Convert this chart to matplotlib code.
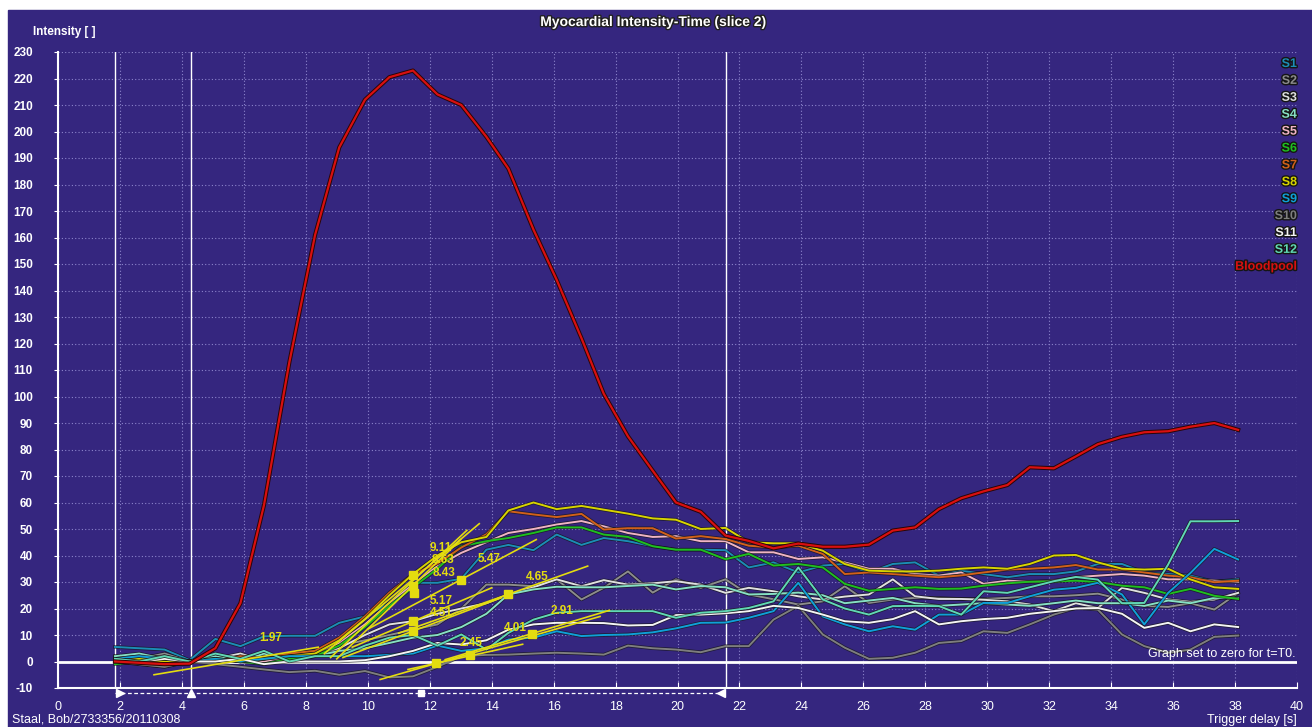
import matplotlib.pyplot as plt
import matplotlib.patheffects as pe
from matplotlib.patches import Rectangle

plt.rcParams['font.family'] = ['Liberation Sans', 'DejaVu Sans']
plt.rcParams['axes.unicode_minus'] = False

bg = '#35267f'
grid_col = '#8c84cc'
fit_col = '#e4dc10'

# trigger times [s]
t = [1.84, 2.62, 3.44, 4.25, 5.08, 5.89, 6.65, 7.47, 8.30, 9.08, 9.91, 10.70,
     11.46, 12.25, 13.02, 13.83, 14.54, 15.35, 16.10, 16.90, 17.62, 18.40, 19.20, 19.95,
     20.75, 21.55, 22.30, 23.10, 23.90, 24.69, 25.40, 26.18, 26.95, 27.67, 28.44, 29.16,
     29.88, 30.65, 31.37, 32.15, 32.86, 33.57, 34.35, 35.07, 35.84, 36.56, 37.33, 38.10]

bloodpool = [0, -0.5, -1, -0.8, 5, 22, 59, 113, 161, 194, 212, 220.5, 223, 214, 210, 198,
             186, 163, 144, 122, 101, 85, 72, 60, 56.5, 47.5, 45.5, 42.7, 44.5, 43.3, 43.3,
             44.1, 49.4, 50.6, 57.5, 61.6, 64.2, 66.6, 73.3, 72.9, 77.4, 82, 84.8, 86.5,
             86.9, 88.6, 90, 87.4]

s1 = [5.5, 5, 4.5, 0.5, 8.5, 5.8, 9.5, 9.7, 9.7, 14.6, 17, 22, 29.7, 29.7, 31.2, 42.2,
      44, 42, 47.9, 44, 46.6, 45.4, 43.5, 42.2, 42.2, 42, 35.5, 37.4, 33.6, 36.2, 36.8, 33.6,
      36.8, 37.4, 32.4, 34.3, 33, 31.8, 33, 33, 34, 36.8, 36.8, 33.6, 33, 32.4, 30.1, 31]
s2 = [2, 1, 3, 0, 1, 2, 1, 3, 4, 6, 8, 10, 12, 14, 20, 29,
      29, 28.4, 31, 23.4, 27.8, 34, 26, 31, 27.8, 31, 25.3, 23.5, 21.5, 22.7, 28.4, 22.1,
      23.4, 24, 24, 23.6, 23.6, 24, 24.6, 24.6, 25, 25.6, 23.4, 21, 20.6, 22, 19.6, 25.9]
s3 = [0, 1, 2, 0, 1, 3, 0, 1, 2, 5, 10, 14, 15.2, 18, 20, 22,
      25.3, 28, 31, 28.4, 30.7, 29, 29.5, 30.3, 29, 25.9, 27.8, 26.5, 24.6, 23.4, 24.5, 25.3,
      31, 24.6, 23.6, 23.6, 23.3, 22.7, 21.5, 19, 22, 20.2, 27.8, 25.9, 23.4, 22.5, 23.4, 25.9]
s4 = [2, 3, 1, 0, 2, 0, 3, 1, 2, 4, 5, 7, 9, 10, 13, 18,
      25.3, 27.2, 28.2, 28, 28, 28.5, 29, 27.2, 28.5, 28, 25.3, 25.5, 26, 25, 22, 23,
      24, 22, 21, 21.5, 22, 21.5, 21, 22, 23, 22, 22, 21, 23, 22, 24, 24]
s5 = [0, -1, -2, 0, 0, 1, 0, 2, 3, 7, 14, 22, 29, 36, 41, 45,
      48.5, 50, 51.7, 53, 51, 48.5, 47, 47.3, 45.4, 45.4, 41.2, 41.2, 38.7, 39.3, 37.4, 35,
      35, 33, 32.4, 33.6, 29.3, 30.5, 30.1, 30.5, 31.8, 32.4, 33, 32.4, 31, 31, 30.5, 30]
s6 = [-1, 0, 0, 0, 1, 0, -1, 1, 2, 6, 13, 21, 28, 35, 43.5, 45.4,
      46.6, 48.5, 50.6, 50.6, 47.9, 47, 43.5, 42.2, 42.2, 38.6, 40.6, 36.2, 36.8, 35.5, 29.3, 26.7,
      27.4, 28, 27.4, 27.5, 28.6, 29.5, 30.1, 30.2, 30.5, 30, 28.6, 28, 25.5, 27.4, 24.8, 23.6]
s7 = [1, 0, -1, 0, 0, 2, 1, 3, 4, 9, 17, 26, 33, 37, 43, 48,
      56.7, 55.5, 54.5, 55.7, 49.8, 50.3, 50.3, 46.4, 47.3, 46.2, 43.7, 43, 43.7, 40.6, 33, 33.6,
      33, 32.4, 31.8, 32.5, 33.6, 34.7, 35, 35.5, 36.4, 34.7, 34.7, 33.6, 32.4, 31.8, 29.9, 30.5]
s8 = [0, 1, 0, 0, 1, 0, 1, 2, 3, 8, 16, 25, 33, 40, 45, 47,
      57, 60, 57.5, 58.7, 57.3, 55.8, 54, 53.5, 50, 50.4, 45, 44.6, 44.6, 41.8, 36.8, 34.3,
      34, 34, 34.3, 35, 35.5, 35, 36.8, 40, 40.2, 37.4, 35, 34.7, 35, 31, 28, 27.4]
s9 = [1, 2, 1, 0, 1, 0, 1, 2, 2, 2, 2, 2.5, 3, 6, 4, 5,
      8.3, 9, 11.4, 9.6, 10, 10.2, 11, 12.5, 14.6, 14.7, 16.5, 19, 29.7, 17, 14, 11.4,
      13.3, 12, 17.7, 17.7, 22.1, 22.1, 24.6, 27.1, 27.8, 29.7, 25.3, 14, 25.9, 33.4, 42.5, 38.5]
s10 = [0, -1, -2, 0, -1, -2, -3, -4, -3.5, -5, -3.6, -6, -5.6, -2, 2, 2.5,
       2.6, 3, 3.3, 3, 2.6, 6, 5, 4.5, 3.5, 5.8, 5.8, 15.8, 21, 10.2, 5.2, 1,
       1.4, 3.3, 7, 7.7, 11.4, 10.8, 14, 17.7, 20.2, 19.6, 10.2, 5.8, 3.3, 4.5, 9.3, 9.8]
s11 = [1, 0, 1, 0, 0, 1, -1, 0, 0, 0, 0.5, 2, 4, 7, 6.4, 8,
       12, 14, 14.6, 14.6, 14.5, 13.6, 13.8, 17.5, 17.7, 18.2, 19, 21, 20.2, 17.7, 15.2, 14.6,
       16, 19, 14, 15.2, 16, 16.5, 18, 19, 20, 20.2, 18, 12.7, 14.6, 11.4, 14, 13]
s12 = [1, 0, 2, 0, 3, 1, 4, 0, 2, 2, 6, 9, 10, 6, 10.2, 4.5,
       10.8, 15.8, 18.4, 19, 19, 19, 19, 16.5, 18.4, 19, 20.2, 22.7, 35.5, 23.4, 20, 17.7,
       20.9, 21, 20.9, 17.7, 26.5, 25.9, 28, 30.3, 31.9, 30.9, 22, 22.1, 36.6, 52.9, 52.9, 53]

seg_names = ['S1', 'S2', 'S3', 'S4', 'S5', 'S6', 'S7', 'S8', 'S9', 'S10', 'S11', 'S12']
seg_values = [s1, s2, s3, s4, s5, s6, s7, s8, s9, s10, s11, s12]
seg_colors = ['#1b8db5', '#8c8c8c', '#e0e0e0', '#86e0c4', '#f0b4c4', '#1fbf1f',
              '#d2601a', '#d8d400', '#0fa0d8', '#7e7e7e', '#f4f4f4', '#60d8b4']

# upslope fits: start, end, square marker, label
fit_t0 = [8.6, 8.8, 9.0, 10.0, 11.0, 9.5, 9.2, 10.4, 12.5, 3.1, 11.3]
fit_v0 = [3, 1.5, 1, 12.2, 10.7, 5.4, 1.5, -6.8, 0.7, -5, -3]
fit_t1 = [13.6, 13.2, 13.0, 15.44, 17.1, 14.0, 14.3, 17.5, 17.8, 8.4, 15.0]
fit_v1 = [52, 49.5, 46, 46, 36, 27.8, 24, 17, 19.3, 5.4, 6.5]
fit_sq_t = [11.46, 11.46, 11.5, 13.02, 14.53, 11.46, 11.46, 12.2, 15.3, None, 13.3]
fit_sq_v = [32.8, 28.4, 25.9, 30.9, 25.3, 15.2, 11.4, -0.5, 10.5, None, 2.5]
fit_labels = ['9.11', '8.63', '8.43', '5.47', '4.65', '5.17', '4.51', '2.91', '4.01', '1.97', '2.45']
fit_lab_t = [12.0, 12.05, 12.1, 13.55, 15.1, 12.0, 12.0, 15.9, 14.4, 6.5, 12.97]
fit_lab_v = [43.0, 38.2, 33.4, 38.5, 32, 22.7, 18.2, 19, 12.7, 8.9, 7]

W, H = 1312, 727
fig = plt.figure(figsize=(W / 100, H / 100), dpi=100, facecolor='white')
fig.patches.append(Rectangle((8 / W, 0), 1, (H - 10) / H, transform=fig.transFigure,
                             color=bg, zorder=-10))
ax = fig.add_axes([58 / W, 39 / H, 1239 / W, 636 / H])
ax.set_facecolor(bg)
ax.set_xlim(0, 40)
ax.set_ylim(-10, 230)
ax.set_xticks(range(0, 41, 2))
ax.set_yticks(range(-10, 231, 10))
ax.grid(True, color=grid_col, linestyle=(0, (1, 2)), linewidth=0.8)
ax.set_axisbelow(True)
for side in ['top', 'right']:
    ax.spines[side].set_visible(False)
for side in ['left', 'bottom']:
    ax.spines[side].set_color('white')
    ax.spines[side].set_linewidth(1.5)
ax.tick_params(axis='y', colors='white', direction='out', length=3, pad=15,
               labelsize=8.5)
ax.tick_params(axis='x', colors='white', direction='in', length=4, pad=9,
               labelsize=9)
for lab in ax.get_yticklabels():
    lab.set_fontweight('bold')

ax.axhline(0, color='white', lw=2, zorder=2)
for xv in [1.84, 4.28, 21.55]:
    ax.axvline(xv, color='white', lw=1, zorder=2)

# trigger row under the axis
row_y = -11.8
ax.plot([1.84, 21.55], [row_y, row_y], color='white', lw=0.9, ls=(0, (3, 2)),
        clip_on=False)
ax.plot([2.0], [row_y], marker='>', color='white', ms=6, clip_on=False)
ax.plot([4.28], [row_y], marker='^', color='white', ms=6, clip_on=False)
ax.plot([11.73], [row_y], marker='s', color='white', ms=4, clip_on=False)
ax.plot([21.4], [row_y], marker='<', color='white', ms=6, clip_on=False)

outline = [pe.Stroke(linewidth=2.5, foreground='#141414', alpha=0.7), pe.Normal()]
for vals, col in zip(seg_values, seg_colors):
    ax.plot(t, vals, color=col, lw=1.4, path_effects=outline, zorder=3)

for i in range(len(fit_labels)):
    ax.plot([fit_t0[i], fit_t1[i]], [fit_v0[i], fit_v1[i]], color=fit_col, lw=1.2, zorder=4)
    if fit_sq_t[i] is not None:
        ax.plot([fit_sq_t[i]], [fit_sq_v[i]], marker='s', color=fit_col, ms=6, zorder=5)
    ax.text(fit_lab_t[i], fit_lab_v[i], fit_labels[i], color=fit_col, fontsize=8.5,
            fontweight='bold', ha='left', va='center', zorder=6)

ax.plot(t, bloodpool, color='#d81010', lw=1.6, zorder=7,
        path_effects=[pe.Stroke(linewidth=3, foreground='#2a0505'), pe.Normal()])

ax.text(39.95, 0.6, 'Graph set to zero for t=T0.', color='white', fontsize=9,
        ha='right', va='bottom', zorder=8)

# legend
leg_names = seg_names + ['Bloodpool']
leg_colors = seg_colors + ['#d81010']
for i, (name, col) in enumerate(zip(leg_names, leg_colors)):
    fig.text(1297 / W, 1 - (64 + 16.9 * i) / H, name, color=col, fontsize=9,
             fontweight='bold', ha='right', va='center',
             path_effects=[pe.withStroke(linewidth=2, foreground='#151515')])

fig.text(653 / W, 1 - 22 / H, 'Myocardial Intensity-Time (slice 2)', color='white',
         fontsize=10, fontweight='bold', ha='center', va='center',
         path_effects=[pe.withStroke(linewidth=2, foreground='#202020')])
fig.text(33 / W, 1 - 32 / H, 'Intensity [ ]', color='white', fontsize=8.5,
         fontweight='bold', ha='left', va='center')
fig.text(12 / W, 1 - 720 / H, 'Staal, Bob/2733356/20110308', color='white',
         fontsize=9, ha='left', va='center')
fig.text(1297 / W, 1 - 720 / H, 'Trigger delay [s]', color='white', fontsize=9,
         ha='right', va='center')

fig.savefig('out.png', dpi=100, facecolor=fig.get_facecolor())
